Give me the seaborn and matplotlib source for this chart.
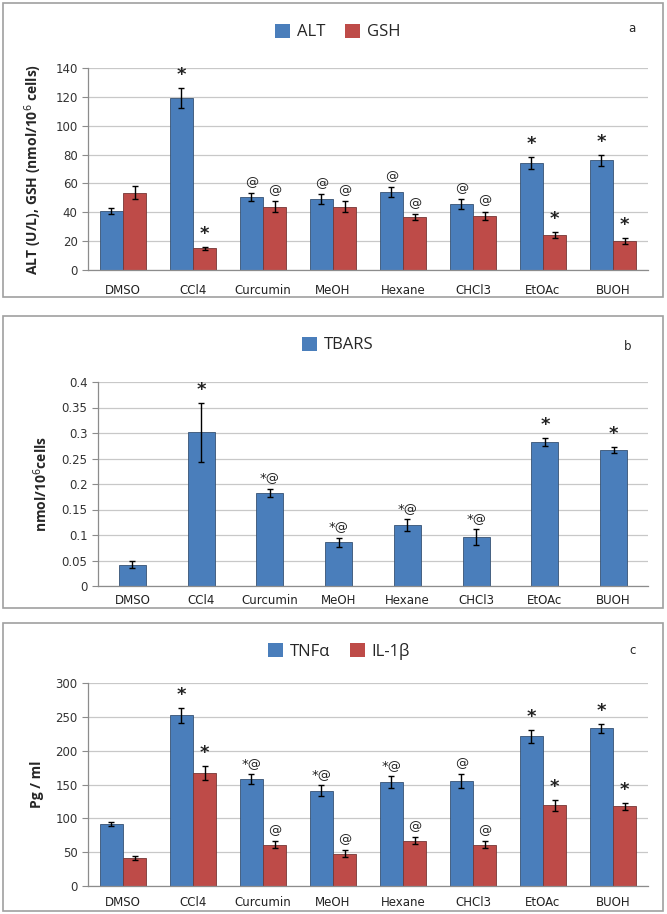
import matplotlib
matplotlib.use('Agg')
import pandas as pd
import matplotlib.pyplot as plt
import seaborn as sns
from matplotlib.patches import Rectangle

groups = ['DMSO', 'CCl4', 'Curcumin', 'MeOH', 'Hexane', 'CHCl3', 'EtOAc', 'BUOH']

# panel a
alt = [41, 119, 50.5, 49, 54, 46, 74, 76]
alt_err = [2, 7, 3, 3.5, 3.5, 3.5, 4, 4]
gsh = [53.5, 15, 44, 44, 36.5, 37.5, 24, 20]
gsh_err = [4.5, 1, 4, 4, 2, 3, 2, 2]
alt_sig = ['', '*', '@', '@', '@', '@', '*', '*']
gsh_sig = ['', '*', '@', '@', '@', '@', '*', '*']

# panel b
tbars = [0.042, 0.301, 0.183, 0.086, 0.119, 0.096, 0.283, 0.267]
tbars_err = [0.007, 0.058, 0.008, 0.009, 0.012, 0.016, 0.008, 0.006]
tbars_sig = ['', '*', '*@', '*@', '*@', '*@', '*', '*']

# panel c
tnf = [92, 252, 158, 141, 154, 155, 221, 233]
tnf_err = [3, 11, 7, 8, 9, 10, 10, 7]
il1 = [42, 167, 61, 48, 67, 61, 119, 118]
il1_err = [3, 10, 5, 5, 5, 5, 8, 5]
tnf_sig = ['', '*', '*@', '*@', '*@', '@', '*', '*']
il1_sig = ['', '*', '@', '@', '@', '@', '*', '*']

blue = '#4a7ebb'
red = '#be4b48'

sns.set_style('white')
plt.rcParams['font.family'] = ['DejaVu Sans']

fig = plt.figure(figsize=(6.67, 9.14), dpi=100)
W, H = 667, 914


def fig_box(x0, y0, x1, y1):
    return [x0 / W, 1 - y1 / H, (x1 - x0) / W, (y1 - y0) / H]


# panel frames
for y0, y1 in [(3, 297), (316, 608), (623, 911)]:
    fig.patches.append(Rectangle((3 / W, 1 - y1 / H), 660 / W, (y1 - y0) / H,
                                 transform=fig.transFigure, fill=False,
                                 edgecolor='#a0a0a0', linewidth=1.2))


def panel(box, series, names, errs, sigs, colors, ymax, ystep, ylabel,
          letter, legend_xy, width, xpad, fmt=None):
    ax = fig.add_axes(box)
    rows = []
    for name, vals in zip(names, series):
        for g, v in zip(groups, vals):
            rows.append({'group': g, 'series': name, 'value': v})
    df = pd.DataFrame(rows)
    sns.barplot(data=df, x='group', y='value', hue='series', palette=colors,
                errorbar=None, width=width, ax=ax, edgecolor='none', saturation=1)
    for cont, err, sig, col in zip(ax.containers, errs, sigs, colors):
        xs = [p.get_x() + p.get_width() / 2 for p in cont.patches]
        hs = [p.get_height() for p in cont.patches]
        for p in cont.patches:
            p.set_edgecolor(sns.dark_palette(col, 3)[1])
            p.set_linewidth(0.6)
        ax.errorbar(xs, hs, yerr=err, fmt='none', ecolor='black',
                    elinewidth=1.0, capsize=2.5, capthick=1.0, zorder=5)
        for x, h, e, s in zip(xs, hs, err, sig):
            if s:
                y = h + e + ymax * 0.02
                if s == '*':
                    ax.text(x, y, s, ha='center', va='bottom', fontsize=13,
                            fontweight='bold', color='#222222')
                else:
                    ax.text(x, y, s, ha='center', va='bottom', fontsize=9.5,
                            color='#222222')
    ax.set_ylim(0, ymax)
    ax.set_xlim(-0.5, len(groups) - 0.5)
    ticks = [i * ystep for i in range(int(round(ymax / ystep)) + 1)]
    ax.set_yticks(ticks)
    if fmt:
        ax.set_yticklabels([fmt(t) for t in ticks])
    ax.yaxis.grid(True, color='#c8c8c8', linewidth=0.9)
    ax.set_axisbelow(True)
    for side in ['top', 'right']:
        ax.spines[side].set_visible(False)
    for side in ['left', 'bottom']:
        ax.spines[side].set_color('#8c8c8c')
        ax.spines[side].set_linewidth(0.9)
    ax.tick_params(axis='y', labelsize=8.5, colors='#333333', length=4,
                   color='#8c8c8c', left=True, direction='out')
    ax.tick_params(axis='x', labelsize=8.5, length=0, pad=xpad, colors='#222222')
    ax.set_xticks(range(len(groups)))
    ax.set_xticks([i + 0.5 for i in range(-1, len(groups))], minor=True)
    ax.tick_params(axis='x', which='minor', length=4, color='#8c8c8c')
    ax.set_xlabel('')
    ax.set_ylabel(ylabel, fontsize=10, fontweight='bold', labelpad=8,
                  family='Open Sans')
    handles, labels = ax.get_legend_handles_labels()
    ax.legend(handles, labels, loc='center', ncol=len(names), frameon=False,
              bbox_to_anchor=legend_xy, bbox_transform=fig.transFigure,
              prop={'family': 'Open Sans', 'size': 12}, handlelength=0.9,
              handleheight=0.9, columnspacing=1.2, handletextpad=0.4)
    fig.text(letter[0] / W, 1 - letter[1] / H, letter[2], fontsize=8.5,
             ha='center', va='center')
    return ax


panel(fig_box(88, 68, 648, 270), [alt, gsh], ['ALT', 'GSH'],
      [alt_err, gsh_err], [alt_sig, gsh_sig], [blue, red], 140, 20,
      'ALT (U/L), GSH (nmol/10$^6$ cells)', (632, 28, 'a'),
      (338 / W, 1 - 32 / H), 0.66, 10)

panel(fig_box(98, 382, 648, 586), [tbars], ['TBARS'],
      [tbars_err], [tbars_sig], [blue], 0.4, 0.05,
      'nmol/10$^6$cells', (628, 347, 'b'),
      (338 / W, 1 - 345 / H), 0.39, 6,
      fmt=lambda t: ('%g' % round(t, 2)))

panel(fig_box(88, 683, 648, 886), [tnf, il1], ['TNFα', 'IL-1β'],
      [tnf_err, il1_err], [tnf_sig, il1_sig], [blue, red], 300, 50,
      'Pg / ml', (633, 651, 'c'),
      (339 / W, 1 - 651 / H), 0.66, 7)

fig.savefig('out.png', dpi=100)
